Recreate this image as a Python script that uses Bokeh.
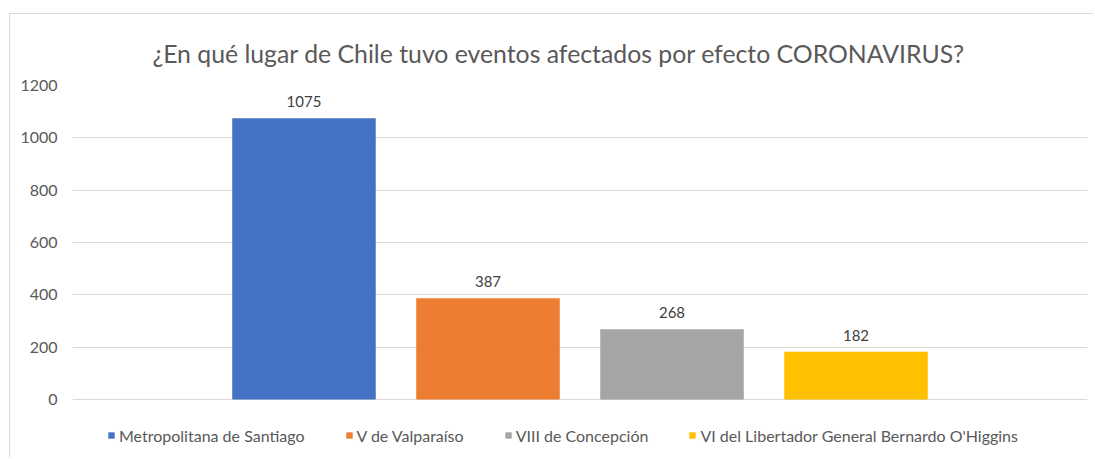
from bokeh.plotting import figure
from bokeh.models import ColumnDataSource, FactorRange, Range1d, Legend, LegendItem, FixedTicker
from bokeh.core.properties import value
from bokeh.embed import file_html
from bokeh.resources import INLINE

title_text = "¿En qué lugar de Chile tuvo eventos afectados por efecto CORONAVIRUS?"
regions = ["Metropolitana de Santiago", "V de Valparaíso", "VIII de Concepción",
           "VI del Libertador General Bernardo O'Higgins"]
counts = [1075, 387, 268, 182]
colors = ["#4472C4", "#ED7D31", "#A5A5A5", "#FFC000"]
y_ticks = [0, 200, 400, 600, 800, 1000, 1200]

src = ColumnDataSource(dict(region=regions, count=counts, color=colors,
                            label=[str(c) for c in counts]))

# frame extends below 0 to host the legend (legend inside frame is never clipped away)
p = figure(width=1084, height=444,
           x_range=FactorRange(factors=regions, range_padding=0.758, range_padding_units="absolute"),
           y_range=Range1d(-225.5, 1200),
           output_backend="svg", toolbar_location=None,
           min_border_left=62, min_border_right=7, min_border_top=71, min_border_bottom=0)
p.styles = {"border-left": "1px solid #D9D9D9", "border-top": "1px solid #D9D9D9",
            "margin-left": "9px", "margin-top": "13px"}
p.outline_line_color = None

r = p.vbar(x="region", top="count", width=0.78, color="color", line_color=None, source=src)
p.text(x="region", y="count", text="label", source=src, text_align="center",
       text_baseline="bottom", y_offset=-11, text_font=value("Lato"),
       text_font_size="15px", text_color="#404040")

p.title.text = title_text
p.title.align = "left"
p.title.offset = 80
p.title.standoff = 35
p.title.text_font = "Lato"
p.title.text_font_size = "24.8px"
p.title.text_font_style = "normal"
p.title.text_color = "#595959"

p.xaxis.visible = False
p.xgrid.grid_line_color = None
p.ygrid.grid_line_color = "#D9D9D9"
p.ygrid.ticker = FixedTicker(ticks=y_ticks)
p.yaxis.ticker = FixedTicker(ticks=y_ticks)
p.yaxis.axis_line_color = None
p.yaxis.major_tick_line_color = None
p.yaxis.minor_tick_line_color = None
p.yaxis.major_tick_out = 0
p.yaxis.major_tick_in = 0
p.yaxis.major_label_standoff = 15
p.yaxis.major_label_text_font = "Lato"
p.yaxis.major_label_text_font_size = "16px"
p.yaxis.major_label_text_color = "#595959"

legend = Legend(items=[LegendItem(label=regions[i], renderers=[r], index=i) for i in range(len(regions))],
                orientation="horizontal", location=(35, 13), padding=0, margin=0,
                spacing=40, glyph_width=8, glyph_height=8, label_standoff=4,
                label_height=20, label_text_font="Lato", label_text_font_size="16px",
                label_text_color="#595959", border_line_color=None, background_fill_alpha=0)
p.add_layout(legend)

open("out.html", "w").write(file_html(p, INLINE))
